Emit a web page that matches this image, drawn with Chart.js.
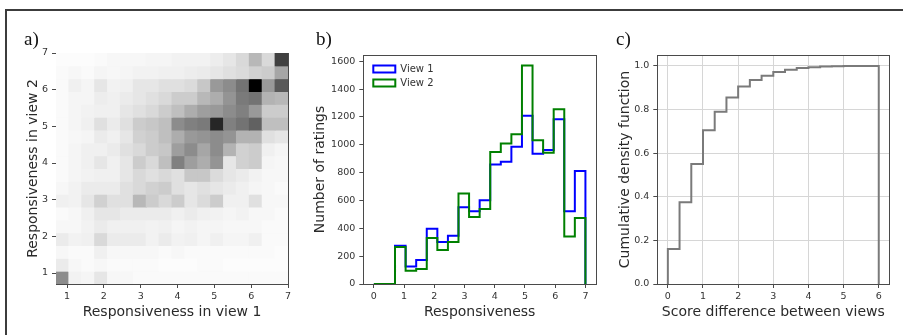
<!DOCTYPE html>
<html><head><meta charset="utf-8">
<script src="https://cdn.jsdelivr.net/npm/chart.js@4.4.1/dist/chart.umd.min.js"></script>
<style>
html,body{margin:0;padding:0;background:#fff;width:903px;height:335px;overflow:hidden;position:relative}
.frame{position:absolute;left:5px;top:9px;width:1000px;height:1000px;border-left:2px solid #3c3c3c;border-top:2px solid #3c3c3c;box-sizing:border-box}
canvas{position:absolute;top:0}
.lbl{position:absolute;font-family:'Liberation Serif','DejaVu Serif',serif;font-size:19px;line-height:19px;color:#111}
</style></head><body>
<div class="frame"></div>
<canvas id="ca" width="300" height="335" style="left:0;width:300px;height:335px"></canvas>
<canvas id="cb" width="303" height="335" style="left:300px;width:303px;height:335px"></canvas>
<canvas id="cc" width="300" height="335" style="left:603px;width:300px;height:335px"></canvas>
<div class="lbl" style="left:24px;top:29px">a)</div>
<div class="lbl" style="left:316px;top:29px">b)</div>
<div class="lbl" style="left:616px;top:29px">c)</div>
<script>
// ---------------- DATA ----------------
// Panel a: 2D histogram (bin edges on both axes) and relative darkness per cell (rows bottom->top)
const heatEdges = [0.7,1.05,1.4,1.75,2.1,2.45,2.8,3.15,3.5,3.85,4.2,4.55,4.9,5.25,5.6,5.95,6.3,6.65,7.0];
const heatTicks = [1,2,3,4,5,6,7];
const heatValues = [
  [0.45,0.05,0.04,0.10,0.03,0.03,0.02,0.02,0.02,0.02,0.02,0.02,0.02,0.02,0.02,0.02,0.02,0.02],
  [0.08,0.03,0.02,0.03,0.02,0.02,0.02,0.02,0.01,0.01,0.01,0.02,0.02,0.01,0.01,0.01,0.01,0.01],
  [0.03,0.02,0.02,0.06,0.03,0.03,0.03,0.03,0.02,0.03,0.02,0.02,0.02,0.02,0.02,0.02,0.02,0.01],
  [0.08,0.05,0.06,0.15,0.08,0.08,0.08,0.05,0.08,0.05,0.06,0.04,0.06,0.04,0.04,0.06,0.02,0.02],
  [0.03,0.03,0.05,0.08,0.06,0.06,0.06,0.05,0.06,0.04,0.05,0.04,0.04,0.03,0.03,0.03,0.02,0.02],
  [0.02,0.03,0.06,0.10,0.10,0.08,0.08,0.08,0.08,0.06,0.08,0.06,0.05,0.04,0.05,0.03,0.03,0.02],
  [0.06,0.05,0.10,0.18,0.12,0.12,0.28,0.20,0.15,0.20,0.10,0.14,0.20,0.06,0.06,0.12,0.03,0.03],
  [0.03,0.05,0.08,0.08,0.08,0.12,0.15,0.18,0.20,0.12,0.10,0.12,0.10,0.08,0.06,0.04,0.03,0.02],
  [0.02,0.04,0.05,0.06,0.06,0.10,0.15,0.12,0.15,0.12,0.22,0.22,0.14,0.10,0.08,0.05,0.03,0.03],
  [0.02,0.04,0.06,0.10,0.06,0.10,0.20,0.15,0.25,0.50,0.38,0.32,0.42,0.10,0.18,0.20,0.04,0.03],
  [0.02,0.04,0.06,0.06,0.08,0.12,0.15,0.20,0.22,0.38,0.45,0.35,0.45,0.30,0.18,0.20,0.06,0.04],
  [0.02,0.03,0.04,0.08,0.06,0.10,0.18,0.20,0.25,0.32,0.40,0.42,0.45,0.42,0.30,0.30,0.12,0.10],
  [0.02,0.04,0.06,0.12,0.08,0.12,0.20,0.22,0.25,0.45,0.50,0.52,0.85,0.50,0.55,0.62,0.25,0.25],
  [0.02,0.04,0.05,0.06,0.06,0.10,0.12,0.15,0.20,0.25,0.32,0.38,0.40,0.45,0.50,0.40,0.20,0.20],
  [0.02,0.04,0.04,0.07,0.06,0.08,0.10,0.12,0.15,0.20,0.20,0.28,0.32,0.42,0.52,0.55,0.30,0.28],
  [0.02,0.06,0.04,0.10,0.05,0.06,0.10,0.10,0.12,0.12,0.14,0.22,0.40,0.45,0.55,1.00,0.40,0.65],
  [0.02,0.03,0.02,0.04,0.03,0.04,0.05,0.05,0.06,0.06,0.07,0.08,0.10,0.12,0.14,0.18,0.20,0.35],
  [0.01,0.01,0.01,0.02,0.03,0.03,0.03,0.04,0.04,0.05,0.05,0.05,0.07,0.10,0.15,0.28,0.15,0.75]
];

// Panel b: histogram of ratings
const histEdges = [0,0.35,0.7,1.05,1.4,1.75,2.1,2.45,2.8,3.15,3.5,3.85,4.2,4.55,4.9,5.25,5.6,5.95,6.3,6.65,7.0];
const histView1 = [0,0,274,125,173,397,301,346,551,522,601,859,878,986,1208,936,962,1184,522,811];
const histView2 = [0,0,265,96,108,330,245,301,650,481,539,948,1010,1075,1569,1032,943,1256,342,474];
const histXTicks = [0,1,2,3,4,5,6,7];
const histYTicks = [0,200,400,600,800,1000,1200,1400,1600];

// Panel c: cumulative distribution of score differences
const cdfEdges = [0,0.333,0.667,1,1.333,1.667,2,2.333,2.667,3,3.333,3.667,4,4.333,4.667,5,5.333,5.667,6];
const cdfValues = [0.16,0.375,0.55,0.705,0.79,0.855,0.905,0.935,0.955,0.972,0.982,0.99,0.994,0.997,0.998,0.999,1.0,1.0];
const cdfXTicks = [0,1,2,3,4,5,6];
const cdfYTicks = [0,0.2,0.4,0.6,0.8,1.0];
const cdfYTickLabels = ['0.0','0.2','0.4','0.6','0.8','1.0'];

// ---------------- STYLE ----------------
Chart.defaults.font.family = "'DejaVu Sans', sans-serif";
Chart.defaults.animation = false;
const SPINE = '#4a4a4a', TICK = '#333333', TITLE = '#2a2a2a';
const TICKFONT = 9.5;

function ticksFrom(arr){ return s => { s.ticks = arr.map(v => ({value: v})); }; }
function bottomAxis(min, max, tickArr, title, extra){
  return Object.assign({
    type:'linear', position:'bottom', min, max, offset:false,
    afterBuildTicks: ticksFrom(tickArr),
    ticks:{font:{size:TICKFONT}, color:TICK, padding:3, maxRotation:0, autoSkip:false, callback: v => String(v)},
    grid:{display:true, drawOnChartArea:false, drawTicks:true, tickLength:4, color:SPINE, offset:false},
    border:{display:true, color:SPINE, width:1},
    title:{display:true, text:title, font:{size:14}, color:TITLE, padding:{top:0, bottom:14.6}},
    afterFit: s => { s.height = 51; }
  }, extra || {});
}
function leftAxis(min, max, tickArr, title, width, titlePad, labels, extra){
  return Object.assign({
    type:'linear', position:'left', min, max,
    afterBuildTicks: ticksFrom(tickArr),
    ticks:{font:{size:TICKFONT}, color:TICK, padding:4, autoSkip:false,
      callback: (v, i) => labels ? labels[i] : String(v)},
    grid:{display:true, drawOnChartArea:false, drawTicks:true, tickLength:4, color:SPINE},
    border:{display:true, color:SPINE, width:1},
    title:{display:true, text:title, font:{size:14}, color:TITLE, padding:{top:titlePad, bottom:0}},
    afterFit: s => { s.width = width; }
  }, extra || {});
}
function spine(pos){
  return {type:'linear', position:pos, display:true,
    ticks:{display:false}, grid:{display:false, drawTicks:false},
    border:{display:true, color:SPINE, width:1},
    afterFit: s => { if (pos === 'top') s.height = 0; else s.width = 0; }};
}
function stepPoints(edges, vals){
  const p = [{x:edges[0], y:0}];
  vals.forEach((v, i) => p.push({x:edges[i+1], y:v}));
  p.push({x:edges[edges.length-1], y:0});
  return p;
}

// ---------------- PANEL A ----------------
const heatPoints = [], heatColors = [];
heatValues.forEach((row, j) => {
  row.forEach((d, i) => {
    heatPoints.push({x:(heatEdges[i]+heatEdges[i+1])/2, y:[heatEdges[j], heatEdges[j+1]]});
    const g = Math.round(255*(1-d));
    heatColors.push(`rgb(${g},${g},${g})`);
  });
});
new Chart(document.getElementById('ca'), {
  type:'bar',
  data:{datasets:[{data:heatPoints, backgroundColor:heatColors, borderWidth:0,
    barPercentage:1, categoryPercentage:1, inflateAmount:0.5, grouped:false}]},
  options:{
    responsive:false, devicePixelRatio:1, events:[],
    layout:{padding:{left:0, top:53, right:12, bottom:0}},
    plugins:{legend:{display:false}, tooltip:{enabled:false}},
    scales:{
      x: bottomAxis(heatEdges[0], heatEdges[heatEdges.length-1], heatTicks, 'Responsiveness in view 1'),
      y: leftAxis(heatEdges[0], heatEdges[heatEdges.length-1], heatTicks, 'Responsiveness in view 2', 56, 24.6),
      xTop: spine('top'), yRight: spine('right')
    }
  }
});

// ---------------- PANEL B ----------------
const legendPlace = {id:'legendPlace', afterLayout(chart){
  const l = chart.legend, a = chart.chartArea; if (!l) return;
  const w = l.width, h = l.height;
  l.left = a.left + 6; l.top = a.top + 5;
  l.right = l.left + w; l.bottom = l.top + h;
}};
new Chart(document.getElementById('cb'), {
  type:'line',
  data:{datasets:[
    {label:'View 1', data:stepPoints(histEdges, histView1), stepped:'after', borderColor:'#0000ff',
     backgroundColor:'rgba(255,255,255,0)', borderWidth:2, pointRadius:0, fill:false, order:2},
    {label:'View 2', data:stepPoints(histEdges, histView2), stepped:'after', borderColor:'#008000',
     backgroundColor:'rgba(255,255,255,0)', borderWidth:2, pointRadius:0, fill:false, order:1}
  ]},
  options:{
    responsive:false, devicePixelRatio:1, events:[],
    layout:{padding:{left:0, top:55, right:7, bottom:0}},
    plugins:{
      tooltip:{enabled:false},
      legend:{display:true, position:'chartArea', align:'start',
        labels:{boxWidth:22, boxHeight:7, padding:4, font:{size:10}, color:'#333',
          sort:(a,b) => a.datasetIndex - b.datasetIndex}}
    },
    scales:{
      x: bottomAxis(-0.35, 7.35, histXTicks, 'Responsiveness'),
      y: leftAxis(0, 1645, histYTicks, 'Number of ratings', 63.3, 11.6),
      xTop: spine('top'), yRight: spine('right')
    }
  },
  plugins:[legendPlace]
});

// ---------------- PANEL C ----------------
new Chart(document.getElementById('cc'), {
  type:'line',
  data:{datasets:[
    {label:'CDF', data:stepPoints(cdfEdges, cdfValues), stepped:'after', borderColor:'#7a7a7a',
     borderWidth:2, pointRadius:0, fill:false}
  ]},
  options:{
    responsive:false, devicePixelRatio:1, events:[],
    layout:{padding:{left:0, top:55, right:13.7, bottom:0}},
    plugins:{legend:{display:false}, tooltip:{enabled:false}},
    scales:{
      x: bottomAxis(-0.3, 6.3, cdfXTicks, 'Score difference between views',
        {grid:{display:true, drawOnChartArea:true, drawTicks:true, tickLength:4, color:'#d6d6d6', tickColor:SPINE, offset:false}}),
      y: leftAxis(0, 1.05, cdfYTicks, 'Cumulative density function', 54.3, 13.6, cdfYTickLabels,
        {grid:{display:true, drawOnChartArea:true, drawTicks:true, tickLength:4, color:'#d6d6d6', tickColor:SPINE}}),
      xTop: spine('top'), yRight: spine('right')
    }
  }
});
</script>
</body></html>
